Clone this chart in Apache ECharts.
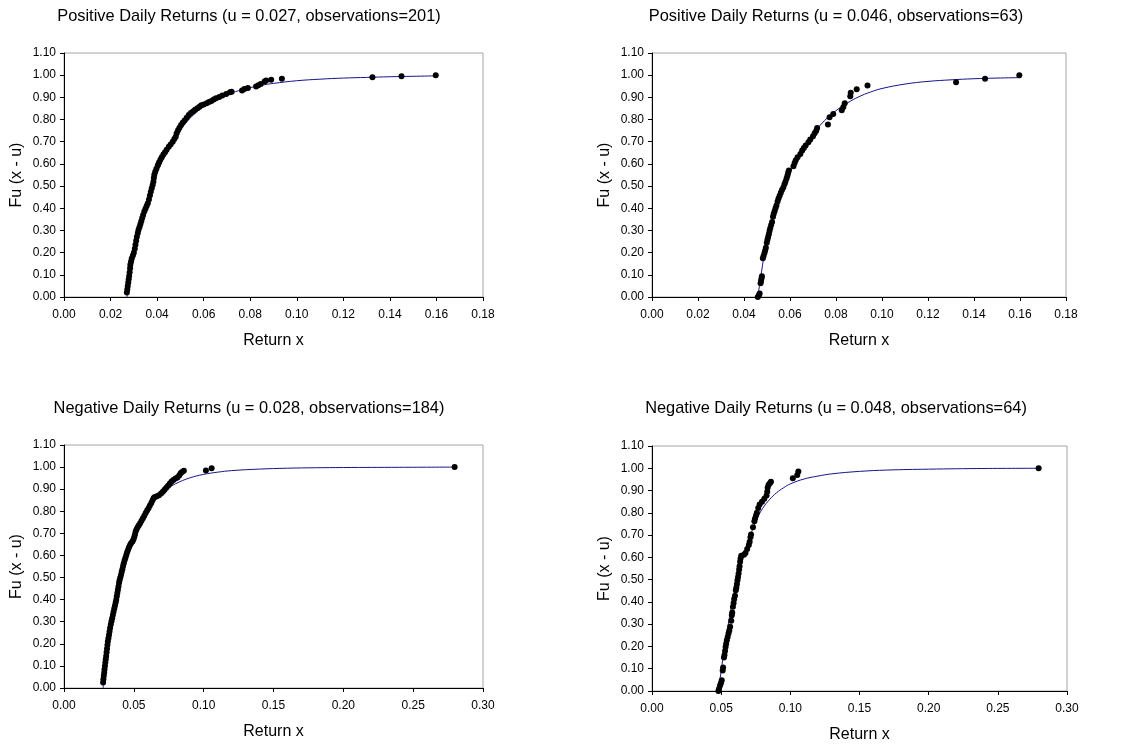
<!DOCTYPE html>
<html>
<head>
<meta charset="utf-8">
<script src="https://cdn.jsdelivr.net/npm/echarts@6/dist/echarts.min.js"></script>
<style>
html,body{margin:0;padding:0;background:#fff;}
#chart{width:1126px;height:749px;}
</style>
</head>
<body>
<div id="chart"></div>
<script>
// ---------- Titles / labels ----------
const panelTitles = [
  'Positive Daily Returns (u = 0.027, observations=201)',
  'Positive Daily Returns (u = 0.046, observations=63)',
  'Negative Daily Returns (u = 0.028, observations=184)',
  'Negative Daily Returns (u = 0.048, observations=64)'
];
const xAxisName = 'Return x';
const yAxisName = 'Fu (x - u)';
const xMaxTop = 0.18, xStepTop = 0.02;
const xMaxBottom = 0.30, xStepBottom = 0.05;
const yMax = 1.10, yStep = 0.10;

// ---------- Panel 1: positive, u = 0.027 (empirical points) ----------
const pos027Points = [
 [0.0270,0.020],[0.0272,0.035],[0.0274,0.050],[0.0276,0.065],[0.0278,0.080],[0.0280,0.095],
 [0.0282,0.112],[0.0284,0.130],[0.0285,0.145],[0.0288,0.160],[0.0291,0.174],[0.0296,0.187],
 [0.0300,0.199],[0.0304,0.218],[0.0307,0.235],[0.0310,0.254],[0.0313,0.272],[0.0317,0.288],
 [0.0320,0.302],[0.0324,0.315],[0.0328,0.328],[0.0332,0.342],[0.0336,0.356],[0.0340,0.370],
 [0.0345,0.386],[0.0350,0.398],[0.0355,0.410],[0.0360,0.423],[0.0365,0.440],[0.0369,0.458],
 [0.0373,0.474],[0.0377,0.490],[0.0381,0.505],[0.0384,0.520],[0.0386,0.536],[0.0388,0.551],
 [0.0392,0.565],[0.0397,0.578],[0.0403,0.594],[0.0408,0.606],[0.0414,0.619],[0.0420,0.630],
 [0.0427,0.642],[0.0434,0.652],[0.0441,0.664],[0.0450,0.677],[0.0458,0.688],[0.0467,0.700],
 [0.0474,0.712],[0.0480,0.723],[0.0484,0.738],[0.0490,0.752],[0.0496,0.763],[0.0503,0.775],
 [0.0510,0.785],[0.0518,0.796],[0.0527,0.808],[0.0536,0.820],[0.0545,0.829],[0.0554,0.836],
 [0.0563,0.844],[0.0573,0.851],[0.0582,0.858],[0.0590,0.864],[0.0600,0.868],[0.0613,0.874],
 [0.0623,0.879],[0.0633,0.884],[0.0643,0.890],[0.0653,0.896],[0.0667,0.902],[0.0680,0.908],
 [0.0697,0.915],[0.0713,0.923],[0.0720,0.925],[0.0765,0.931],[0.0775,0.938],[0.0790,0.942],
 [0.0825,0.949],[0.0835,0.955],[0.0845,0.960],[0.0862,0.972],[0.0868,0.976],[0.0890,0.979],
 [0.0936,0.984],[0.1325,0.991],[0.1450,0.995],[0.1597,1.000]
];
// fitted curve
const pos027Fit = [
 [0.027,0.0],[0.029,0.12],[0.031,0.23],[0.033,0.32],[0.035,0.40],[0.037,0.47],[0.040,0.56],
 [0.043,0.63],[0.046,0.69],[0.050,0.755],[0.055,0.815],[0.060,0.858],[0.065,0.89],[0.070,0.913],
 [0.075,0.93],[0.080,0.944],[0.085,0.955],[0.090,0.963],[0.100,0.975],[0.110,0.982],[0.120,0.987],
 [0.130,0.990],[0.140,0.993],[0.150,0.995],[0.160,0.997]
];

// ---------- Panel 2: positive, u = 0.046 ----------
const pos046Points = [
 [0.0460,0.000],[0.0465,0.008],[0.0468,0.016],[0.0472,0.062],[0.0474,0.072],[0.0476,0.083],
 [0.0478,0.094],[0.0482,0.175],[0.0485,0.185],[0.0489,0.198],[0.0492,0.210],[0.0495,0.222],
 [0.0499,0.245],[0.0502,0.258],[0.0505,0.270],[0.0508,0.283],[0.0511,0.298],[0.0514,0.310],
 [0.0518,0.325],[0.0522,0.338],[0.0526,0.362],[0.0529,0.374],[0.0533,0.387],[0.0537,0.400],
 [0.0541,0.413],[0.0546,0.430],[0.0550,0.444],[0.0555,0.457],[0.0560,0.470],[0.0565,0.482],
 [0.0571,0.494],[0.0576,0.508],[0.0580,0.520],[0.0585,0.534],[0.0589,0.548],[0.0592,0.560],
 [0.0595,0.570],[0.0615,0.590],[0.0620,0.604],[0.0625,0.617],[0.0633,0.630],[0.0645,0.645],
 [0.0653,0.660],[0.0660,0.672],[0.0668,0.683],[0.0680,0.698],[0.0688,0.710],[0.0700,0.725],
 [0.0707,0.738],[0.0714,0.750],[0.0718,0.762],[0.0765,0.778],[0.0772,0.810],[0.0788,0.825],
 [0.0825,0.842],[0.0832,0.857],[0.0838,0.873],[0.0862,0.905],[0.0864,0.921],[0.0890,0.937],
 [0.0937,0.953],[0.1322,0.968],[0.1448,0.984],[0.1597,1.000]
];
const pos046Fit = [
 [0.046,0.0],[0.047,0.07],[0.048,0.14],[0.049,0.205],[0.050,0.26],[0.052,0.33],[0.054,0.40],
 [0.056,0.46],[0.058,0.51],[0.060,0.56],[0.063,0.625],[0.066,0.675],[0.070,0.735],[0.075,0.795],
 [0.080,0.84],[0.085,0.875],[0.090,0.903],[0.095,0.924],[0.100,0.94],[0.110,0.96],[0.120,0.972],
 [0.130,0.979],[0.140,0.984],[0.150,0.987],[0.160,0.989]
];

// ---------- Panel 3: negative, u = 0.028 ----------
const neg028Points = [
 [0.0280,0.025],[0.0282,0.040],[0.0285,0.055],[0.0288,0.070],[0.0290,0.085],[0.0293,0.100],
 [0.0296,0.115],[0.0299,0.130],[0.0302,0.145],[0.0305,0.162],[0.0308,0.178],[0.0311,0.195],
 [0.0314,0.210],[0.0318,0.225],[0.0322,0.240],[0.0326,0.256],[0.0330,0.272],[0.0335,0.287],
 [0.0340,0.302],[0.0345,0.316],[0.0350,0.330],[0.0355,0.345],[0.0360,0.360],[0.0365,0.373],
 [0.0370,0.387],[0.0374,0.400],[0.0378,0.415],[0.0382,0.430],[0.0386,0.445],[0.0390,0.460],
 [0.0394,0.475],[0.0398,0.488],[0.0403,0.500],[0.0408,0.512],[0.0413,0.525],[0.0418,0.538],
 [0.0423,0.552],[0.0428,0.565],[0.0434,0.578],[0.0440,0.590],[0.0446,0.602],[0.0452,0.614],
 [0.0458,0.625],[0.0465,0.636],[0.0472,0.646],[0.0480,0.655],[0.0490,0.663],[0.0497,0.672],
 [0.0503,0.683],[0.0508,0.695],[0.0513,0.708],[0.0519,0.718],[0.0527,0.728],[0.0536,0.737],
 [0.0545,0.746],[0.0555,0.757],[0.0565,0.768],[0.0575,0.780],[0.0585,0.792],[0.0595,0.803],
 [0.0605,0.814],[0.0615,0.826],[0.0625,0.838],[0.0634,0.850],[0.0642,0.860],[0.0650,0.865],
 [0.0665,0.868],[0.0680,0.872],[0.0695,0.880],[0.0708,0.888],[0.0720,0.897],[0.0732,0.906],
 [0.0745,0.916],[0.0758,0.926],[0.0770,0.935],[0.0783,0.942],[0.0798,0.948],[0.0812,0.953],
 [0.0825,0.962],[0.0835,0.972],[0.0845,0.978],[0.0858,0.983],[0.1016,0.985],[0.1057,0.995],
 [0.2797,1.000]
];
const neg028Fit = [
 [0.028,0.0],[0.030,0.12],[0.032,0.22],[0.035,0.34],[0.038,0.44],[0.041,0.52],[0.045,0.61],
 [0.050,0.70],[0.055,0.76],[0.060,0.81],[0.065,0.85],[0.070,0.88],[0.075,0.905],[0.080,0.925],
 [0.090,0.951],[0.100,0.967],[0.110,0.977],[0.120,0.984],[0.140,0.991],[0.160,0.995],
 [0.180,0.997],[0.200,0.998],[0.240,0.999],[0.280,1.0]
];

// ---------- Panel 4: negative, u = 0.048 ----------
const neg048Points = [
 [0.0480,0.000],[0.0485,0.010],[0.0492,0.025],[0.0498,0.035],[0.0504,0.048],[0.0511,0.092],
 [0.0514,0.105],[0.0520,0.150],[0.0524,0.162],[0.0528,0.180],[0.0532,0.198],[0.0536,0.212],
 [0.0541,0.228],[0.0547,0.243],[0.0553,0.258],[0.0559,0.272],[0.0565,0.288],[0.0573,0.315],
 [0.0577,0.340],[0.0580,0.352],[0.0585,0.378],[0.0590,0.395],[0.0594,0.413],[0.0600,0.428],
 [0.0606,0.452],[0.0610,0.465],[0.0614,0.480],[0.0618,0.497],[0.0622,0.512],[0.0626,0.527],
 [0.0630,0.545],[0.0633,0.560],[0.0637,0.580],[0.0640,0.595],[0.0645,0.607],[0.0665,0.612],
 [0.0676,0.620],[0.0688,0.637],[0.0700,0.655],[0.0706,0.670],[0.0712,0.690],[0.0716,0.703],
 [0.0730,0.735],[0.0740,0.762],[0.0745,0.775],[0.0752,0.788],[0.0758,0.800],[0.0768,0.822],
 [0.0778,0.837],[0.0795,0.850],[0.0812,0.863],[0.0828,0.878],[0.0833,0.895],[0.0836,0.912],
 [0.0842,0.925],[0.0852,0.933],[0.0860,0.940],[0.1018,0.955],[0.1050,0.970],[0.1058,0.985],
 [0.2795,1.000]
];
const neg048Fit = [
 [0.048,0.0],[0.050,0.09],[0.052,0.18],[0.054,0.26],[0.056,0.33],[0.058,0.40],[0.060,0.46],
 [0.063,0.54],[0.066,0.605],[0.070,0.68],[0.073,0.73],[0.076,0.775],[0.080,0.82],[0.085,0.86],
 [0.090,0.89],[0.095,0.912],[0.100,0.93],[0.110,0.952],[0.120,0.965],[0.130,0.975],[0.150,0.986],
 [0.170,0.992],[0.200,0.996],[0.240,0.999],[0.280,1.0]
];

// ---------- Build chart ----------
const FONT = '"Liberation Sans", Arial, sans-serif';
const grids = [
  {left: 64,  top: 53,  width: 419, height: 244},
  {left: 652, top: 53,  width: 414, height: 244},
  {left: 64,  top: 445, width: 419, height: 243},
  {left: 652, top: 446, width: 415, height: 245}
];
const titlePos = [[249, 8], [836, 8], [249, 400], [836, 400]];
const xMaxes = [xMaxTop, xMaxTop, xMaxBottom, xMaxBottom];
const xSteps = [xStepTop, xStepTop, xStepBottom, xStepBottom];
const pointSets = [pos027Points, pos046Points, neg028Points, neg048Points];
const fitSets = [pos027Fit, pos046Fit, neg028Fit, neg048Fit];

const axisCommon = {
  axisLine: {show: true, onZero: false, lineStyle: {color: '#000', width: 1}},
  axisTick: {show: true, inside: false, length: 4, lineStyle: {color: '#000'}},
  splitLine: {show: false},
  axisLabel: {color: '#000', fontSize: 12, fontFamily: FONT, formatter: v => v.toFixed(2)},
  nameTextStyle: {color: '#000', fontSize: 16, fontFamily: FONT}
};

const option = {
  backgroundColor: '#fff',
  animation: false,
  title: panelTitles.map((t, i) => ({
    text: t, left: titlePos[i][0], top: titlePos[i][1], textAlign: 'center', padding: 0,
    textStyle: {fontSize: 16.4, fontWeight: 'normal', color: '#000', fontFamily: FONT}
  })),
  grid: grids.map(g => Object.assign({show: true, borderColor: '#a6a6a6', borderWidth: 1, backgroundColor: '#fff'}, g)),
  xAxis: grids.map((g, i) => Object.assign({}, axisCommon, {
    type: 'value', gridIndex: i, min: 0, max: xMaxes[i], interval: xSteps[i],
    name: xAxisName, nameLocation: 'middle', nameGap: 36,
    axisLabel: Object.assign({}, axisCommon.axisLabel, {margin: 12})
  })),
  yAxis: grids.map((g, i) => Object.assign({}, axisCommon, {
    type: 'value', gridIndex: i, min: 0, max: yMax, interval: yStep,
    name: yAxisName, nameLocation: 'middle', nameGap: 39,
    axisLabel: Object.assign({}, axisCommon.axisLabel, {margin: 8})
  })),
  series: []
};

for (let i = 0; i < 4; i++) {
  option.series.push({
    type: 'line', xAxisIndex: i, yAxisIndex: i, data: fitSets[i],
    smooth: 0.4, showSymbol: false, symbol: 'none', z: 2,
    lineStyle: {color: '#14148c', width: 1}
  });
  option.series.push({
    type: 'scatter', xAxisIndex: i, yAxisIndex: i, data: pointSets[i],
    symbol: 'circle', symbolSize: 6, z: 3,
    itemStyle: {color: '#000', opacity: 1}
  });
}

const chart = echarts.init(document.getElementById('chart'), null, {renderer: 'canvas'});
chart.setOption(option);
</script>
</body>
</html>
